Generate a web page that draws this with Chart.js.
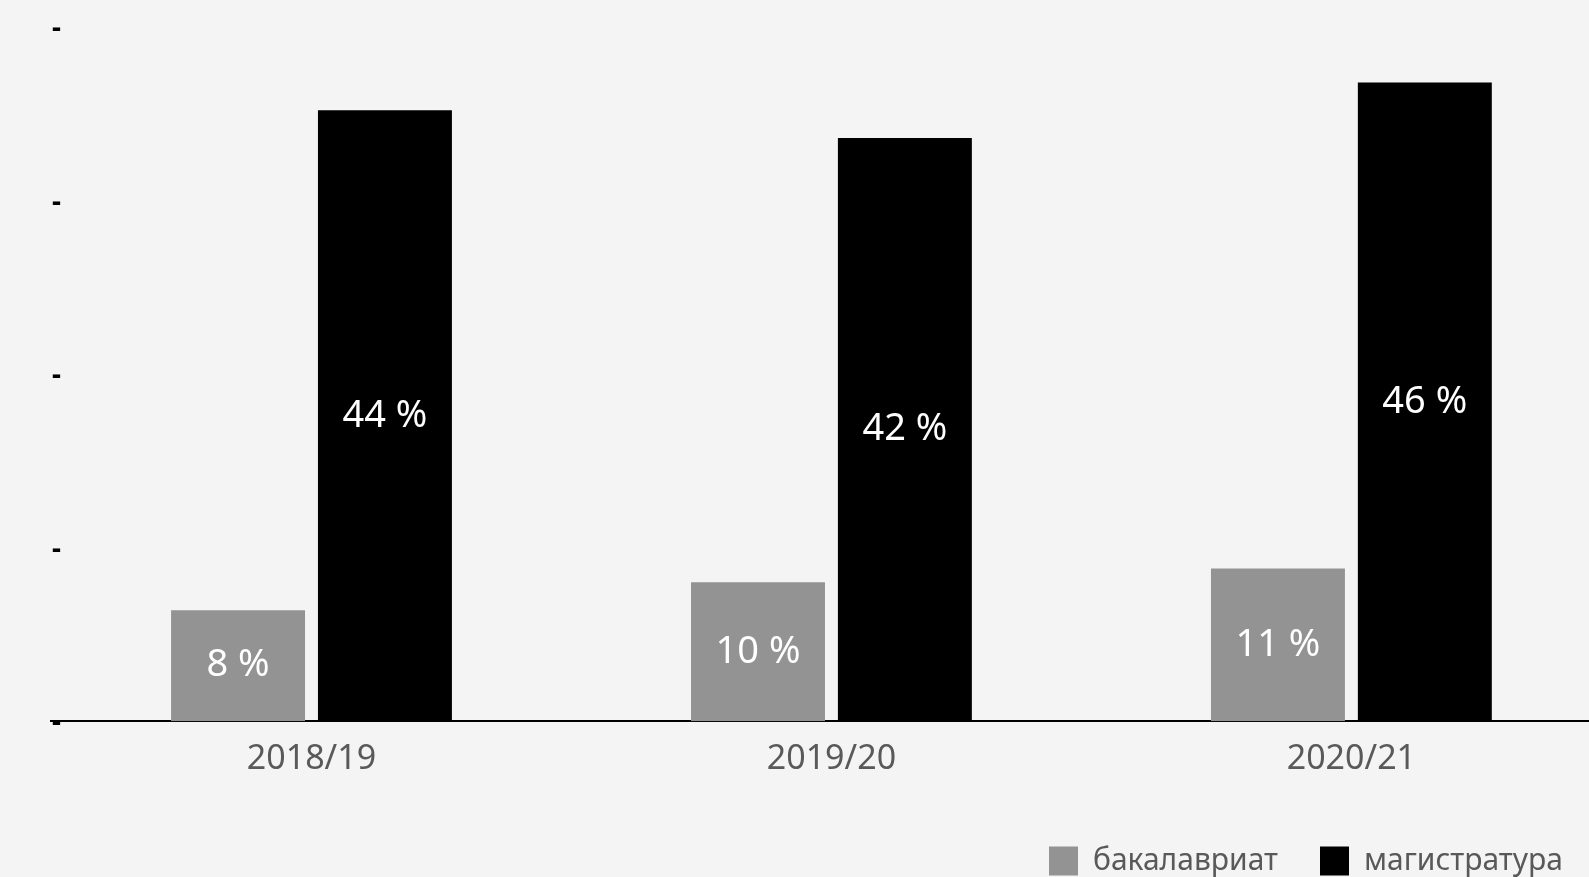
<!DOCTYPE html>
<html>
<head>
<meta charset="utf-8">
<script src="https://cdn.jsdelivr.net/npm/chart.js@4.4.0/dist/chart.umd.min.js"></script>
<style>
  html, body { margin: 0; padding: 0; background: #f4f4f4; overflow: hidden; }
  #wrap { width: 1589px; height: 877px; position: relative; }
</style>
</head>
<body>
<div id="wrap"><canvas id="myChart"></canvas></div>
<script>
// учебные годы
var years = ["2018/19", "2019/20", "2020/21"];
var seriesNames = ["бакалавриат", "магистратура"];
var bachelor = [8, 10, 11];
var master = [44, 42, 46];
var yTicks = [0, 12.5, 25, 37.5, 50];

var FONT = "'Noto Sans', sans-serif";

// подписи внутри столбцов
var barLabels = {
	id: "barLabels",
	afterDatasetsDraw: function (chart) {
		var ctx = chart.ctx;
		ctx.save();
		ctx.fillStyle = "#ffffff";
		ctx.font = "38px " + FONT;
		ctx.textAlign = "center";
		ctx.textBaseline = "middle";
		chart.data.datasets.forEach(function (ds, i) {
			chart.getDatasetMeta(i).data.forEach(function (bar, j) {
				var y = (bar.y + bar.base) / 2;
				ctx.fillText(ds.data[j].y + " %", bar.x, y);
			});
		});
		ctx.restore();
	}
};

function points(arr) {
	return arr.map(function (v, i) { return { x: i, y: v }; });
}

new Chart("myChart", {
	type: "bar",
	data: {
		datasets: [
			{ label: seriesNames[0], data: points(bachelor), backgroundColor: "#939393" },
			{ label: seriesNames[1], data: points(master), backgroundColor: "#000000" }
		]
	},
	options: {
		responsive: true,
		maintainAspectRatio: false,
		animation: false,
		layout: { padding: { left: 49, top: 27, right: -16, bottom: -9 } },
		datasets: { bar: { categoryPercentage: 0.565, barPercentage: 0.912 } },
		scales: {
			x: {
				type: "linear",
				offset: false,
				min: -0.501,
				max: 2.457,
				grid: { display: false, drawTicks: false },
				border: { display: true, color: "#000000", width: 2 },
				afterBuildTicks: function (scale) {
					scale.ticks = years.map(function (y, i) { return { value: i }; });
				},
				title: { display: true, text: " ", font: { size: 5 }, padding: 0 },
				ticks: {
					autoSkip: false,
					maxRotation: 0,
					padding: 18,
					color: "#595959",
					font: { family: FONT, size: 34 },
					callback: function (v) { return years[v]; }
				}
			},
			y: {
				min: 0,
				max: 50,
				grid: { display: false, drawTicks: false },
				border: { display: false },
				afterBuildTicks: function (scale) {
					scale.ticks = yTicks.map(function (v) { return { value: v }; });
				},
				ticks: {
					mirror: true,
					padding: 1,
					labelOffset: 2,
					color: "#000000",
					font: { family: FONT, size: 28, weight: "bold" },
					callback: function () { return "-"; }
				}
			}
		},
		plugins: {
			legend: {
				position: "bottom",
				align: "end",
				labels: {
					boxWidth: 29,
					boxHeight: 29,
					padding: 42,
					color: "#595959",
					font: { family: FONT, size: 30 }
				}
			},
			tooltip: { enabled: false }
		}
	},
	plugins: [barLabels]
});
</script>
</body>
</html>
